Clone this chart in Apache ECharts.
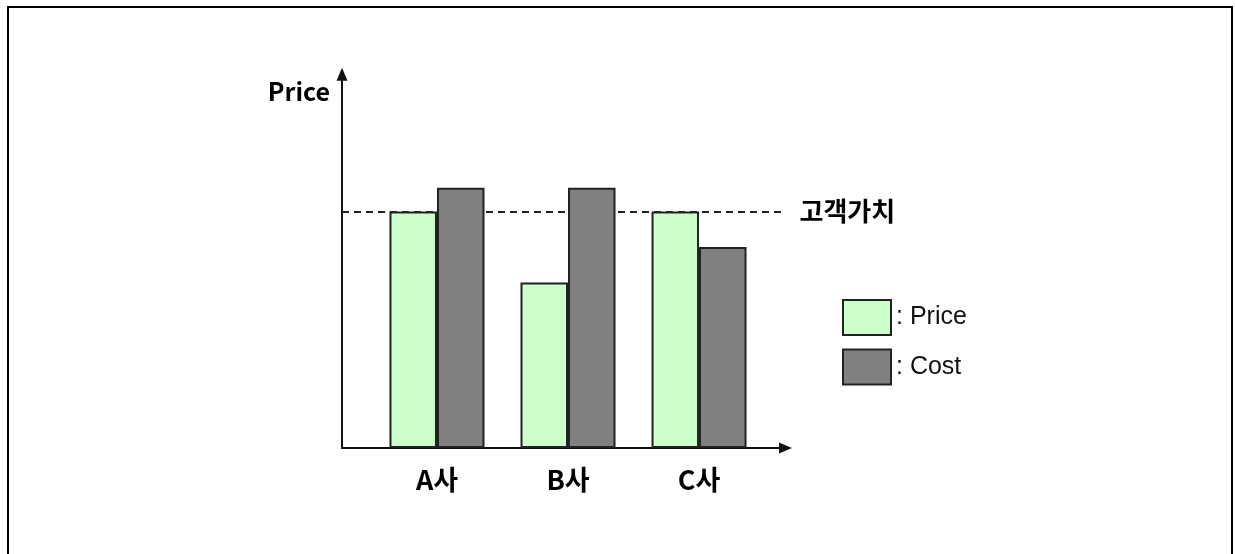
<!DOCTYPE html>
<html>
<head>
<meta charset="utf-8">
<script src="https://cdn.jsdelivr.net/npm/echarts@6/dist/echarts.min.js"></script>
<style>
  html, body { margin: 0; padding: 0; background: #fff; }
  #wrap { position: relative; width: 1235px; height: 554px; overflow: hidden; }
  #chart { position: absolute; left: 0; top: 0; width: 1235px; height: 554px; }
  #frame { position: absolute; left: 7px; top: 6px; width: 1226px; height: 600px;
           border: 2px solid #000; box-sizing: border-box; pointer-events: none; }
</style>
</head>
<body>
<div id="wrap">
  <div id="chart"></div>
  <div id="frame"></div>
</div>
<script>
// ---- data ----
const categories = ['A사', 'B사', 'C사'];
const seriesNames = ['Price', 'Cost'];
const priceValues = [100, 70, 100];
const costValues = [110, 110, 85];
const customerValue = 100;
const customerValueLabel = '고객가치';
const yAxisName = 'Price';
const categoryIndex = [0, 1, 2];

// ---- chart ----
const boldFont = '"Noto Sans CJK KR", "Liberation Sans", sans-serif';
const chart = echarts.init(document.getElementById('chart'), null, { renderer: 'canvas' });

const axisLineStyle = { color: '#111', width: 2 };

chart.setOption({
  animation: false,
  backgroundColor: '#fff',
  grid: { left: 342, top: 74.3, width: 443.5, height: 373.7, containLabel: false },
  legend: {
    orient: 'vertical',
    left: 842,
    top: 299,
    padding: 0,
    itemWidth: 48,
    itemHeight: 35,
    itemGap: 12.5,
    icon: 'rect',
    data: seriesNames,
    formatter: ': {name}',
    itemStyle: { borderColor: '#222', borderWidth: 2 },
    textStyle: { fontFamily: '"Liberation Sans", Arial, sans-serif', fontSize: 25, color: '#111' }
  },
  xAxis: {
    type: 'value',
    min: -0.725,
    max: 2.66,
    axisLine: { show: true, onZero: false, lineStyle: axisLineStyle,
                symbol: ['none', 'triangle'], symbolSize: [11, 13] },
    axisTick: { show: false },
    splitLine: { show: false },
    axisLabel: {
      customValues: categoryIndex,
      formatter: function (v) { return categories[Math.round(v)] || ''; },
      margin: 18,
      fontFamily: boldFont,
      fontWeight: 'bold',
      fontSize: 27,
      color: '#000'
    }
  },
  yAxis: {
    type: 'value',
    min: 0,
    max: 158,
    name: yAxisName,
    nameLocation: 'end',
    nameGap: -17,
    nameTextStyle: {
      fontFamily: boldFont, fontWeight: 'bold', fontSize: 25, color: '#000',
      align: 'right', verticalAlign: 'middle', padding: [0, 12, 0, 0]
    },
    axisLine: { show: true, onZero: false, lineStyle: axisLineStyle,
                symbol: ['none', 'triangle'], symbolSize: [11, 13] },
    axisTick: { show: false },
    axisLabel: { show: false },
    splitLine: { show: false }
  },
  series: [
    {
      name: seriesNames[0],
      type: 'bar',
      barWidth: 47.5,
      barGap: '0%',
      z: 2,
      itemStyle: { color: '#CCFFCC', borderColor: '#222', borderWidth: 2 },
      data: categoryIndex.map(function (i) { return [i, priceValues[i]]; }),
      markLine: {
        z: 1,
        silent: true,
        symbol: ['none', 'none'],
        lineStyle: { color: '#222', width: 1.8, type: [7, 5] },
        label: {
          show: true,
          position: 'end',
          distance: 14,
          formatter: customerValueLabel,
          fontFamily: boldFont,
          fontWeight: 'bold',
          fontSize: 26,
          color: '#000'
        },
        data: [{ yAxis: customerValue }]
      }
    },
    {
      name: seriesNames[1],
      type: 'bar',
      barWidth: 47.5,
      barGap: '0%',
      z: 2,
      itemStyle: { color: '#808080', borderColor: '#222', borderWidth: 2 },
      data: categoryIndex.map(function (i) { return [i, costValues[i]]; })
    }
  ]
});
</script>
</body>
</html>
